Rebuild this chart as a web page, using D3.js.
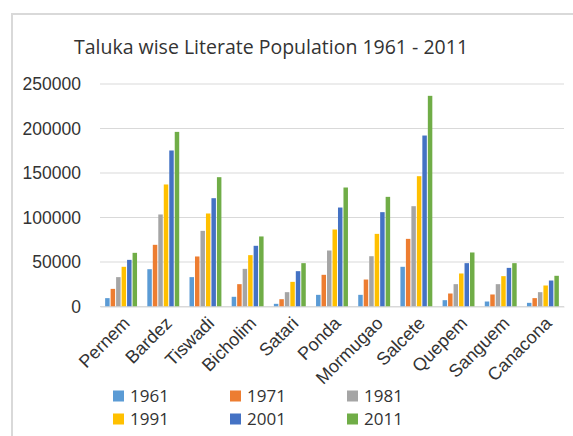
<!DOCTYPE html>
<html lang="en">
<head>
  <meta charset="UTF-8" />
  <title>Taluka wise Literate Population</title>
  <script src="https://d3js.org/d3.v7.min.js"></script>
  <style>
    body { margin: 0; background: #fff; font-family: "Open Sans", sans-serif; }
    svg text { fill: #333; }
  </style>
</head>
<body>
<svg id="chart" width="573" height="436"></svg>
<script>
const talukas = ["Pernem", "Bardez", "Tiswadi", "Bicholim", "Satari", "Ponda",
                 "Mormugao", "Salcete", "Quepem", "Sanguem", "Canacona"];
const years = ["1961", "1971", "1981", "1991", "2001", "2011"];
const colors = ["#5B9BD5", "#ED7D31", "#A5A5A5", "#FFC000", "#4472C4", "#70AD47"];
const yTicks = [0, 50000, 100000, 150000, 200000, 250000];

// literate population per taluka, one array per census year
const v1961 = [9400, 41900, 33000, 10900, 3000, 13100, 13100, 44600, 7100, 5600, 4100];
const v1971 = [19800, 69300, 56200, 25100, 8200, 35600, 30300, 76000, 14600, 13500, 9400];
const v1981 = [33000, 103400, 85000, 42300, 16100, 62900, 56500, 112700, 25100, 25100, 16100];
const v1991 = [44600, 137100, 104500, 57700, 27700, 86500, 81600, 146400, 37100, 34100, 23600];
const v2001 = [52400, 175300, 121700, 68200, 39700, 111200, 106000, 192100, 48700, 43400, 29200];
const v2011 = [60300, 196200, 145300, 78700, 48700, 133700, 123200, 236700, 60700, 48700, 34500];
const series = [v1961, v1971, v1981, v1991, v2001, v2011];

const svg = d3.select("#chart");

// chart frame
svg.append("rect")
  .attr("x", 12).attr("y", 14)
  .attr("width", 600).attr("height", 440)
  .attr("fill", "none").attr("stroke", "#d9d9d9").attr("stroke-width", 2);

svg.append("text")
  .attr("x", 271).attr("y", 54)
  .attr("text-anchor", "middle")
  .style("font-size", "19.5px")
  .text("Taluka wise Literate Population 1961 - 2011");

const margin = { left: 100, right: 9, top: 84, bottom: 129.5 };
const width = 573 - margin.left - margin.right;
const height = 436 - margin.top - margin.bottom;

const g = svg.append("g").attr("transform", `translate(${margin.left},${margin.top})`);

const x0 = d3.scaleBand().domain(talukas).range([0, width])
  .paddingInner(0.22).paddingOuter(0.11);
const x1 = d3.scaleBand().domain(years).range([0, x0.bandwidth()]);
const y = d3.scaleLinear().domain([0, 250000]).range([height, 0]);

// gridlines
g.selectAll(".grid").data(yTicks).enter().append("line")
  .attr("x1", 0).attr("x2", width)
  .attr("y1", d => y(d)).attr("y2", d => y(d))
  .attr("stroke", "#d9d9d9").attr("stroke-width", 1);

const yAxis = g.append("g").call(d3.axisLeft(y).tickValues(yTicks).tickSize(0).tickPadding(19).tickFormat(d3.format("d")));
yAxis.select(".domain").remove();
yAxis.selectAll("text").style("font-size", "17.5px").attr("fill", "#333");

const groups = g.selectAll(".grp").data(talukas).enter().append("g")
  .attr("transform", d => `translate(${x0(d)},0)`);

groups.selectAll("rect")
  .data((d, i) => years.map((yr, j) => ({ yr, v: series[j][i], c: colors[j] })))
  .enter().append("rect")
  .attr("x", d => x1(d.yr) + 0.5)
  .attr("width", x1.bandwidth() - 1)
  .attr("y", d => y(d.v))
  .attr("height", d => y(0) - y(d.v))
  .attr("fill", d => d.c);

const xAxis = g.append("g").attr("transform", `translate(0,${height})`)
  .call(d3.axisBottom(x0).tickSize(0).tickPadding(0));
xAxis.select(".domain").attr("stroke", "#d9d9d9");
xAxis.selectAll("text")
  .style("font-size", "18px").attr("fill", "#333")
  .attr("text-anchor", "end")
  .attr("dy", "0.3em")
  .attr("transform", "translate(6,14) rotate(-45)");

// legend
const legend = svg.append("g");
const legX = [113, 230, 347], legY = [396, 419];
years.forEach((yr, i) => {
  const lx = legX[i % 3], ly = legY[Math.floor(i / 3)];
  legend.append("rect").attr("x", lx).attr("y", ly - 5.5).attr("width", 11).attr("height", 11).attr("fill", colors[i]);
  legend.append("text").attr("x", lx + 17).attr("y", ly).attr("dy", "0.35em")
    .style("font-size", "17px").text(yr);
});
</script>
</body>
</html>
